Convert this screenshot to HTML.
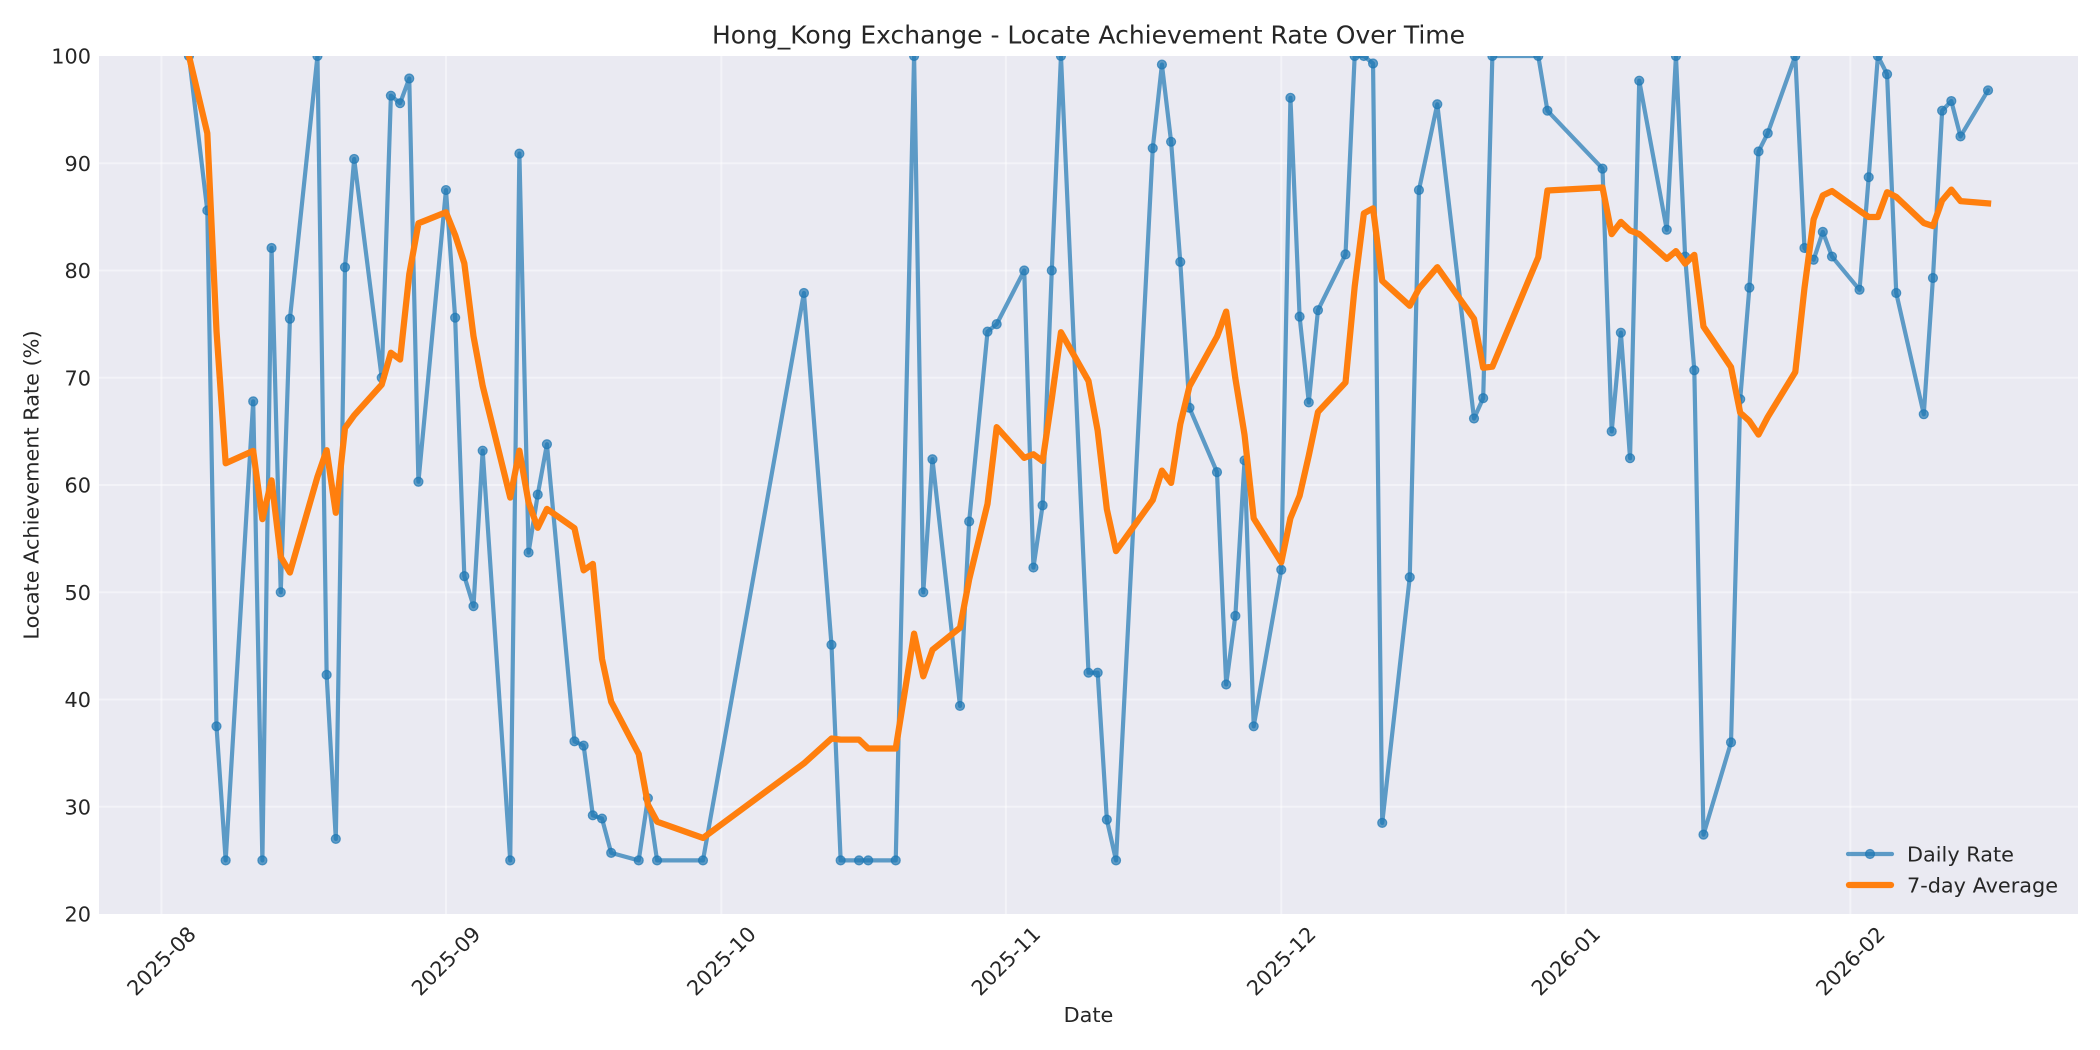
<!DOCTYPE html>
<html>
<head>
<meta charset="utf-8">
<style>
  html, body { margin: 0; padding: 0; background: #ffffff; }
  svg { display: block; }
  text { font-family: "DejaVu Sans", "Liberation Sans", sans-serif; fill: #262626; }
</style>
</head>
<body>
<svg width="2100" height="1050" viewBox="0 0 2100 1050" xmlns="http://www.w3.org/2000/svg">
  <defs>
    <clipPath id="plotclip"><rect x="99" y="56" width="1979" height="858"/></clipPath>
    <marker id="dot" markerUnits="userSpaceOnUse" markerWidth="14" markerHeight="14" refX="7" refY="7" overflow="visible">
      <circle cx="7" cy="7" r="4.5" fill="#1f77b4" fill-opacity="0.7" stroke="#1f77b4" stroke-opacity="0.7" stroke-width="1.2"/>
    </marker>
  </defs>

  <rect x="0" y="0" width="2100" height="1050" fill="#ffffff"/>
  <rect x="99" y="56" width="1979" height="858" fill="#eaeaf2"/>

  <g stroke="#ffffff" stroke-opacity="0.45" stroke-width="2">
    <line x1="99" x2="2078" y1="806.75" y2="806.75"/>
    <line x1="99" x2="2078" y1="699.5" y2="699.5"/>
    <line x1="99" x2="2078" y1="592.25" y2="592.25"/>
    <line x1="99" x2="2078" y1="485" y2="485"/>
    <line x1="99" x2="2078" y1="377.75" y2="377.75"/>
    <line x1="99" x2="2078" y1="270.5" y2="270.5"/>
    <line x1="99" x2="2078" y1="163.25" y2="163.25"/>
    <line y1="56" y2="914" x1="161.41" x2="161.41"/>
    <line y1="56" y2="914" x1="445.96" x2="445.96"/>
    <line y1="56" y2="914" x1="721.33" x2="721.33"/>
    <line y1="56" y2="914" x1="1005.88" x2="1005.88"/>
    <line y1="56" y2="914" x1="1281.25" x2="1281.25"/>
    <line y1="56" y2="914" x1="1565.8" x2="1565.8"/>
    <line y1="56" y2="914" x1="1850.35" x2="1850.35"/>
  </g>

  <g clip-path="url(#plotclip)">
    <polyline fill="none" stroke="#1f77b4" stroke-opacity="0.7" stroke-width="4.2" stroke-linejoin="round" stroke-linecap="round"
      marker-start="url(#dot)" marker-mid="url(#dot)" marker-end="url(#dot)"
      points="188.95,56 207.31,210.44 216.49,726.31 225.67,860.38 253.20,401.34 262.38,860.38 271.56,247.98 280.74,592.25 289.92,318.76 317.46,56 326.64,674.83 335.81,838.92 344.99,267.28 354.17,158.96 381.71,377.75 390.89,95.68 400.07,103.19 409.25,78.52 418.43,481.78 445.96,190.06 455.14,317.69 464.32,576.16 473.50,606.19 482.68,450.68 510.22,860.38 519.39,153.60 528.57,552.57 537.75,494.65 546.93,444.24 574.47,741.33 583.65,745.62 592.83,815.33 602.01,818.55 611.18,852.87 638.72,860.38 647.90,798.17 657.08,860.38 702.97,860.38 803.94,293.02 831.48,644.80 840.66,860.38 859.02,860.38 868.20,860.38 895.73,860.38 914.09,56 923.27,592.25 932.45,459.26 959.99,705.93 969.17,521.46 987.52,331.63 996.70,324.12 1024.24,270.5 1033.42,567.58 1042.60,505.38 1051.78,270.5 1060.96,56 1088.49,672.69 1097.67,672.69 1106.85,819.62 1116.03,860.38 1152.75,148.23 1161.92,64.58 1171.10,141.8 1180.28,261.92 1189.46,407.78 1217.00,472.13 1226.18,684.48 1235.36,615.84 1244.54,460.33 1253.71,726.31 1281.25,569.73 1290.43,97.83 1299.61,316.62 1308.79,402.42 1317.97,310.18 1345.50,254.41 1354.68,56 1363.86,56 1373.04,63.51 1382.22,822.84 1409.76,577.23 1418.94,190.06 1437.29,104.26 1474.01,418.51 1483.19,398.13 1492.37,56 1538.26,56 1547.44,110.70 1602.52,168.61 1611.69,431.37 1620.87,332.70 1630.05,458.19 1639.23,80.67 1666.77,229.74 1675.95,56 1685.13,256.56 1694.31,370.24 1703.48,834.63 1731.02,742.4 1740.20,399.2 1749.38,287.66 1758.56,151.45 1767.74,133.22 1795.28,56 1804.45,247.98 1813.63,259.77 1822.81,231.89 1831.99,256.56 1859.53,289.80 1868.71,177.19 1877.89,56 1887.07,74.23 1896.24,293.02 1923.78,414.21 1932.96,278.01 1942.14,110.70 1951.32,101.04 1960.50,136.44 1988.04,90.32"/>
    <polyline fill="none" stroke="#ff7f0e" stroke-width="6.25" stroke-linejoin="round" stroke-linecap="square"
      points="188.95,56 207.31,133.22 216.49,330.88 225.67,463.23 253.20,450.89 262.38,519.11 271.56,480.39 280.74,556.96 289.92,572.52 317.46,476.74 326.64,450.25 335.81,512.78 344.99,428.05 354.17,415.29 381.71,384.61 390.89,352.76 400.07,359.52 409.25,274.36 418.43,223.31 445.96,212.26 455.14,235.00 464.32,263.31 473.50,336.24 482.68,385.90 510.22,497.55 519.39,450.68 528.57,502.48 537.75,527.79 546.93,508.92 574.47,528.22 583.65,570.37 592.83,563.94 602.01,658.85 611.18,701.75 638.72,754.09 647.90,804.6 657.08,821.66 702.97,837.96 803.94,763.42 831.48,738.54 840.66,739.61 859.02,739.61 868.20,748.51 895.73,748.51 914.09,633.65 923.27,676.33 932.45,649.84 959.99,627.75 969.17,579.38 987.52,503.88 996.70,427.19 1024.24,457.87 1033.42,454.33 1042.60,460.98 1051.78,398.77 1060.96,332.28 1088.49,380.97 1097.67,430.73 1106.85,509.24 1116.03,551.07 1152.75,500.01 1161.92,470.63 1171.10,482.85 1180.28,424.19 1189.46,386.33 1217.00,336.67 1226.18,311.58 1235.36,378.39 1244.54,434.91 1253.71,518.35 1281.25,562.33 1290.43,518.14 1299.61,495.83 1308.79,455.61 1317.97,411.96 1345.50,382.47 1354.68,286.69 1363.86,213.34 1373.04,208.40 1382.22,280.80 1409.76,305.79 1418.94,288.63 1437.29,267.18 1474.01,318.87 1483.19,367.78 1492.37,366.70 1538.26,257.20 1547.44,190.49 1602.52,187.49 1611.69,234.14 1620.87,221.92 1630.05,230.50 1639.23,234.03 1666.77,258.81 1675.95,251.09 1685.13,263.64 1694.31,254.84 1703.48,326.59 1731.02,367.13 1740.20,412.71 1749.38,420.97 1758.56,434.59 1767.74,417.00 1795.28,372.07 1804.45,288.30 1813.63,219.34 1822.81,195.42 1831.99,191.03 1859.53,210.76 1868.71,216.98 1877.89,216.98 1887.07,192.21 1896.24,196.93 1923.78,222.99 1932.96,226.10 1942.14,200.47 1951.32,189.63 1960.50,201.11 1988.04,203.36"/>
  </g>

  <g font-size="20.8" text-anchor="end">
    <text x="91" y="921.5">20</text>
    <text x="91" y="814.25">30</text>
    <text x="91" y="707">40</text>
    <text x="91" y="599.75">50</text>
    <text x="91" y="492.5">60</text>
    <text x="91" y="385.25">70</text>
    <text x="91" y="278">80</text>
    <text x="91" y="170.75">90</text>
    <text x="91" y="63.5">100</text>
  </g>

  <g font-size="20.8" text-anchor="middle">
    <text transform="translate(161.41,961) rotate(-45)" dy="0.35em">2025-08</text>
    <text transform="translate(445.96,961) rotate(-45)" dy="0.35em">2025-09</text>
    <text transform="translate(721.33,961) rotate(-45)" dy="0.35em">2025-10</text>
    <text transform="translate(1005.88,961) rotate(-45)" dy="0.35em">2025-11</text>
    <text transform="translate(1281.25,961) rotate(-45)" dy="0.35em">2025-12</text>
    <text transform="translate(1565.8,961) rotate(-45)" dy="0.35em">2026-01</text>
    <text transform="translate(1850.35,961) rotate(-45)" dy="0.35em">2026-02</text>
  </g>

  <text x="1088.5" y="1022" font-size="20.8" text-anchor="middle">Date</text>
  <text transform="translate(31,485) rotate(-90)" dy="0.35em" font-size="20.8" text-anchor="middle">Locate Achievement Rate (%)</text>
  <text x="1088.5" y="43.5" font-size="25" text-anchor="middle">Hong_Kong Exchange - Locate Achievement Rate Over Time</text>

  <g>
    <line x1="1848" y1="854" x2="1892" y2="854" stroke="#1f77b4" stroke-opacity="0.7" stroke-width="4.2" stroke-linecap="round"/>
    <circle cx="1870" cy="854" r="4.5" fill="#1f77b4" fill-opacity="0.7" stroke="#1f77b4" stroke-opacity="0.7" stroke-width="1.2"/>
    <text x="1907" y="861.5" font-size="20.8">Daily Rate</text>
    <line x1="1849" y1="885" x2="1891" y2="885" stroke="#ff7f0e" stroke-width="6.25" stroke-linecap="round"/>
    <text x="1907" y="892.5" font-size="20.8">7-day Average</text>
  </g>
</svg>
</body>
</html>
